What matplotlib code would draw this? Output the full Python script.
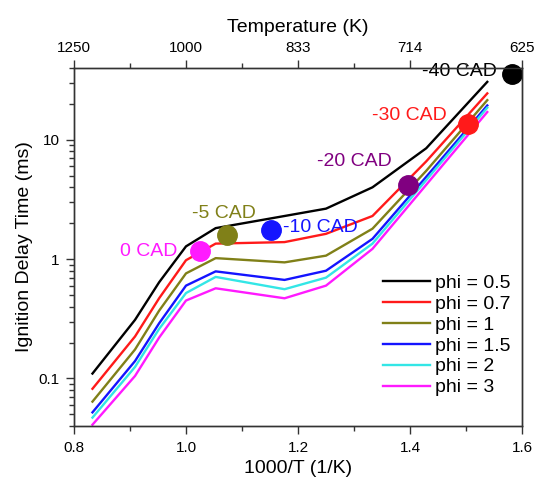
import matplotlib
matplotlib.use("Agg")
import matplotlib.pyplot as plt
from matplotlib.ticker import FixedLocator, MultipleLocator, LogLocator, NullFormatter, FuncFormatter

plt.rcParams['font.family'] = ['Liberation Sans', 'DejaVu Sans']

# 1000/T grid (1/K) of the simulated points
inv_T = [0.833, 0.909, 0.952, 1.0, 1.053, 1.176, 1.25, 1.333, 1.429, 1.538]

# ignition delay (ms) for each equivalence ratio
tau_phi05 = [0.11, 0.31, 0.64, 1.28, 1.82, 2.3, 2.65, 4.0, 8.5, 30.6]
tau_phi07 = [0.082, 0.225, 0.47, 0.98, 1.35, 1.39, 1.63, 2.3, 6.6, 24.5]
tau_phi1 = [0.064, 0.175, 0.37, 0.76, 1.02, 0.94, 1.07, 1.8, 5.5, 21.5]
tau_phi15 = [0.052, 0.14, 0.29, 0.60, 0.79, 0.67, 0.80, 1.48, 4.9, 19.4]
tau_phi2 = [0.047, 0.125, 0.26, 0.52, 0.71, 0.56, 0.70, 1.35, 4.6, 18.6]
tau_phi3 = [0.041, 0.105, 0.22, 0.45, 0.57, 0.47, 0.60, 1.22, 4.2, 17.1]

series = [
    ("phi = 0.5", tau_phi05, "black"),
    ("phi = 0.7", tau_phi07, "#ff1a1a"),
    ("phi = 1", tau_phi1, "#808018"),
    ("phi = 1.5", tau_phi15, "#1414ff"),
    ("phi = 2", tau_phi2, "#33e6e6"),
    ("phi = 3", tau_phi3, "#ff1aff"),
]

# crank-angle points marked on the curves
cad_labels = ["0 CAD", "-5 CAD", "-10 CAD", "-20 CAD", "-30 CAD", "-40 CAD"]
cad_x = [1.025, 1.073, 1.151, 1.397, 1.504, 1.582]
cad_y = [1.17, 1.60, 1.74, 4.15, 13.6, 35.7]
cad_colors = ["#ff1aff", "#808018", "#1414ff", "#800080", "#ff1a1a", "black"]
cad_offsets = [(-16.5, 0, "right"), (-2, 15, "center"), (9, 2, "left"),
               (-39, 17, "center"), (-15.5, 6, "right"), (-10.5, 1.5, "right")]

# top axis temperature labels
temp_ticks = [0.8, 1.0, 1.2, 1.4, 1.6]
temp_labels = ["1250", "1000", "833", "714", "625"]

fig = plt.figure(figsize=(5.35, 4.87), dpi=100)
ax = fig.add_axes([0.1383, 0.1253, 0.8374, 0.7351])

for label, tau, col in series:
    ax.plot(inv_T, tau, color=col, lw=1.7, label=label)

for lab, x, y, col, (dx, dy, ha) in zip(cad_labels, cad_x, cad_y, cad_colors, cad_offsets):
    ax.plot(x, y, "o", color=col, ms=14, clip_on=False, zorder=5)
    ax.annotate(lab, (x, y), xytext=(dx, dy), textcoords="offset points",
                ha=ha, va="center", color=col, fontsize=14)

ax.set_yscale("log")
ax.set_xlim(0.8, 1.6)
ax.set_ylim(0.04, 40)
ax.xaxis.set_major_locator(MultipleLocator(0.2))
ax.xaxis.set_minor_locator(MultipleLocator(0.1))
ax.xaxis.set_major_formatter(FuncFormatter(lambda v, p: f"{v:.1f}"))
ax.yaxis.set_major_locator(LogLocator(base=10))
ax.yaxis.set_minor_locator(LogLocator(base=10, subs=range(2, 10)))
ax.yaxis.set_minor_formatter(NullFormatter())
ax.yaxis.set_major_formatter(FuncFormatter(lambda v, p: f"{v:g}"))

ax.tick_params(which="both", direction="out", labelsize=11, width=1.0, color="#333333")
ax.tick_params(which="major", length=5.5, pad=5)
ax.tick_params(which="minor", length=3.5)

ax.set_xlabel("1000/T (1/K)", fontsize=14, labelpad=4)
ax.set_ylabel("Ignition Delay Time (ms)", fontsize=14, labelpad=4)

top = ax.twiny()
top.set_xlim(ax.get_xlim())
top.xaxis.set_major_locator(FixedLocator(temp_ticks))
top.set_xticklabels(temp_labels)
top.xaxis.set_minor_locator(MultipleLocator(0.1))
top.tick_params(which="both", direction="out", labelsize=11, width=1.0, color="#333333")
top.tick_params(which="major", length=5.5, pad=4)
top.tick_params(which="minor", length=3.5)
top.set_xlabel("Temperature (K)", fontsize=14, labelpad=6)

for a in (ax, top):
    for s in a.spines.values():
        s.set_color("#333333")
        s.set_linewidth(1.0)

ax.legend(loc="lower right", bbox_to_anchor=(1.0, 0.05), frameon=False, fontsize=14,
          handlelength=2.4, handletextpad=0.25, labelspacing=0.17, borderaxespad=0.2)

fig.savefig("out.png", dpi=100)
